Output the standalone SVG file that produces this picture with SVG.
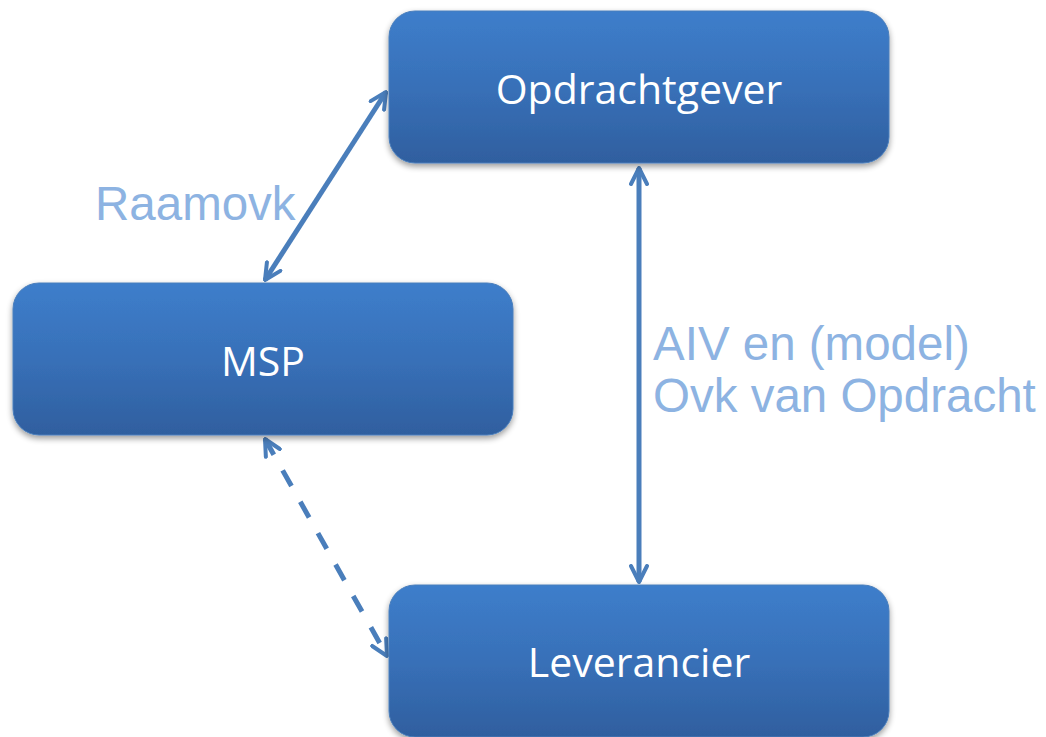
<svg xmlns="http://www.w3.org/2000/svg" width="1046" height="737" viewBox="0 0 1046 737">
<defs>
<linearGradient id="g" x1="0" y1="0" x2="0" y2="1">
<stop offset="0" stop-color="#3d7ecb"/>
<stop offset="0.5" stop-color="#3870b8"/>
<stop offset="1" stop-color="#2f5f9f"/>
</linearGradient>
<filter id="sh" x="-10%" y="-10%" width="120%" height="130%">
<feGaussianBlur in="SourceAlpha" stdDeviation="3"/>
<feOffset dx="0" dy="3"/>
<feComponentTransfer><feFuncA type="linear" slope="0.4"/></feComponentTransfer>
<feMerge><feMergeNode/><feMergeNode in="SourceGraphic"/></feMerge>
</filter>
<marker id="ah" viewBox="0 0 10 10" refX="9" refY="5" markerWidth="4" markerHeight="4" orient="auto-start-reverse" markerUnits="strokeWidth">
<path d="M1,1 L9,5 L1,9" fill="none" stroke="#4a7ebb" stroke-width="2" stroke-linecap="round" stroke-linejoin="round"/>
</marker>
</defs>
<style>
.box{fill:url(#g);stroke:#4a7ebb;stroke-width:1;filter:url(#sh)}
.nt{font-family:"Open Sans","Noto Sans",sans-serif;font-size:41px;fill:#ffffff;text-anchor:middle}
.lbl{font-family:"Liberation Sans",Arial,sans-serif;font-size:47.5px;fill:#8db3e2}
.c{fill:none;stroke:#4a7ebb;stroke-width:5;marker-start:url(#ah);marker-end:url(#ah)}
</style>
<g id="connectors">
<line class="c" x1="265" y1="280" x2="386" y2="92"/>
<line class="c" x1="639" y1="168" x2="639" y2="582"/>
<line class="c" x1="265" y1="439" x2="387" y2="656" stroke-dasharray="18,18"/>
</g>
<g id="node-opdrachtgever">
<rect class="box" x="389" y="11" width="500" height="152" rx="26"/>
<text class="nt" x="639" y="104">Opdrachtgever</text>
</g>
<g id="node-msp">
<rect class="box" x="13" y="283" width="500" height="152" rx="26"/>
<text class="nt" x="263" y="376">MSP</text>
</g>
<g id="node-leverancier">
<rect class="box" x="389" y="585" width="500" height="152" rx="26"/>
<text class="nt" x="639" y="677">Leverancier</text>
</g>
<g id="labels">
<text class="lbl" x="95" y="220">Raamovk</text>
<text class="lbl" x="653" y="360">AIV en (model)</text>
<text class="lbl" x="653" y="412">Ovk van Opdracht</text>
</g>
</svg>
